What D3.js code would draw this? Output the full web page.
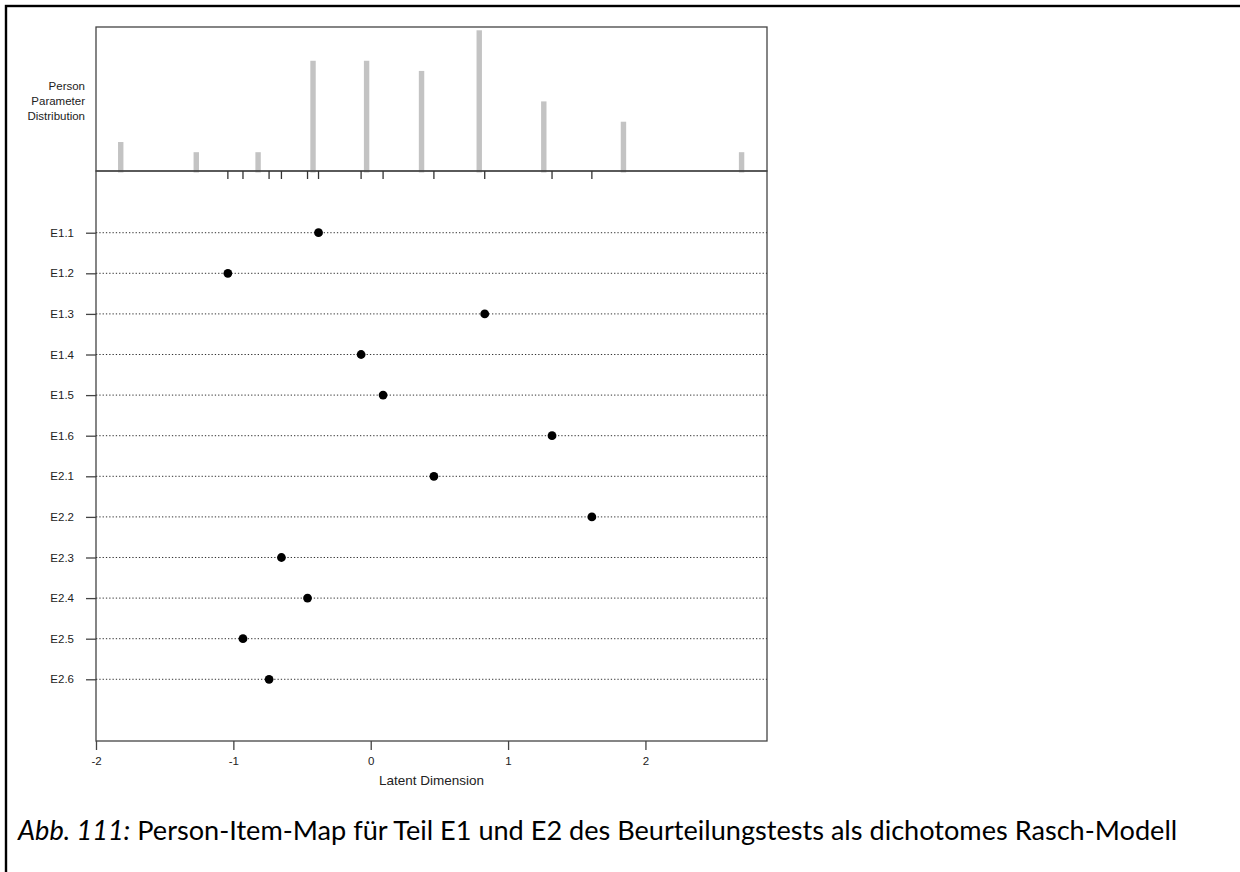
<!DOCTYPE html>
<html>
<head>
<meta charset="utf-8">
<script src="https://cdn.jsdelivr.net/npm/d3@7"></script>
<style>
  body { margin: 0; background: #fff; }
  svg { display: block; }
</style>
</head>
<body>
<div id="chart"></div>
<script>
// item names, top to bottom
const items = ["E1.1", "E1.2", "E1.3", "E1.4", "E1.5", "E1.6",
               "E2.1", "E2.2", "E2.3", "E2.4", "E2.5", "E2.6"];
// item locations on the latent dimension
const itemLocations = [-0.38, -1.04, 0.83, -0.07, 0.09, 1.32,
                       0.46, 1.61, -0.65, -0.46, -0.93, -0.74];
// person parameter distribution
const personParams = [-1.82, -1.27, -0.82, -0.42, -0.03, 0.37, 0.79, 1.26, 1.84, 2.70];
const personCounts = [3, 2, 2, 11, 11, 10, 14, 7, 5, 2];
const xTicks = [-2, -1, 0, 1, 2];

const width = 1240, height = 872;
const font = "'Liberation Sans', Arial, sans-serif";

const svg = d3.select("#chart").append("svg")
  .attr("width", width)
  .attr("height", height);

svg.append("rect").attr("width", width).attr("height", height).attr("fill", "#fff");

// outer frame (cell border, runs off the picture on right / bottom)
svg.append("rect")
  .attr("x", 6).attr("y", 6)
  .attr("width", 1300).attr("height", 1000)
  .attr("fill", "none")
  .attr("stroke", "#000")
  .attr("stroke-width", 2.4);

const left = 96, right = 767;
const histTop = 27, mid = 171, bottom = 741;

const x = d3.scaleLinear().domain([-2.0, 2.885]).range([left, right]);
const yHist = d3.scaleLinear().domain([0, 14]).range([mid + 1.5, 30.3]);
// R style: items at 1..n from bottom, ylim c(0, n+1) with 4% padding
const yItem = d3.scaleLinear().domain([-0.52, items.length + 1.52]).range([bottom, mid]);

const axisCol = "#444";

// ---------- top panel : histogram ----------
svg.selectAll(".bar")
  .data(personParams)
  .enter()
  .append("rect")
  .attr("class", "bar")
  .attr("x", d => x(d) - 2.7)
  .attr("y", (d, i) => yHist(personCounts[i]))
  .attr("width", 5.4)
  .attr("height", (d, i) => yHist(0) - yHist(personCounts[i]))
  .attr("fill", "#c3c3c3");

svg.append("rect")
  .attr("x", left).attr("y", histTop)
  .attr("width", right - left).attr("height", mid - histTop)
  .attr("fill", "none").attr("stroke", axisCol).attr("stroke-width", 1.3);

const ppLabel = svg.append("text")
  .attr("text-anchor", "end")
  .attr("font-family", font)
  .attr("font-size", 11.5)
  .attr("fill", "#222");
["Person", "Parameter", "Distribution"].forEach((t, i) => {
  ppLabel.append("tspan").attr("x", 85).attr("y", 89.5 + i * 15).text(t);
});

// ---------- bottom panel : items ----------
svg.append("rect")
  .attr("x", left).attr("y", mid)
  .attr("width", right - left).attr("height", bottom - mid)
  .attr("fill", "none").attr("stroke", axisCol).attr("stroke-width", 1.3);

// dotted guide lines
svg.selectAll(".guide")
  .data(items)
  .enter()
  .append("line")
  .attr("class", "guide")
  .attr("x1", left).attr("x2", right)
  .attr("y1", (d, i) => yItem(items.length - i))
  .attr("y2", (d, i) => yItem(items.length - i))
  .attr("stroke", "#333")
  .attr("stroke-width", 1)
  .attr("stroke-dasharray", "1.3,2");

// rug of item locations under the divider
svg.selectAll(".rug")
  .data(itemLocations)
  .enter()
  .append("line")
  .attr("class", "rug")
  .attr("x1", d => x(d)).attr("x2", d => x(d))
  .attr("y1", mid).attr("y2", mid + 8)
  .attr("stroke", "#333").attr("stroke-width", 1.3);

// item points
svg.selectAll(".pt")
  .data(itemLocations)
  .enter()
  .append("circle")
  .attr("class", "pt")
  .attr("cx", d => x(d))
  .attr("cy", (d, i) => yItem(items.length - i))
  .attr("r", 4.4)
  .attr("fill", "#000");

// y axis
const yAxis = d3.axisLeft(yItem)
  .tickValues(d3.range(1, items.length + 1))
  .tickFormat(v => items[items.length - v])
  .tickSize(10)
  .tickPadding(12);
const gy = svg.append("g")
  .attr("transform", `translate(${left},0)`)
  .call(yAxis);
gy.select(".domain").remove();
gy.selectAll(".tick line").attr("stroke", axisCol).attr("stroke-width", 1.3);
gy.selectAll(".tick text")
  .attr("font-family", font).attr("font-size", 11.5).attr("fill", "#222");

// x axis
const xAxis = d3.axisBottom(x)
  .tickValues(xTicks)
  .tickFormat(d3.format("d"))
  .tickSize(9)
  .tickPadding(7);
const gx = svg.append("g")
  .attr("transform", `translate(0,${bottom})`)
  .call(xAxis);
gx.select(".domain").remove();
gx.selectAll(".tick line").attr("stroke", axisCol).attr("stroke-width", 1.3);
gx.selectAll(".tick text")
  .attr("font-family", font).attr("font-size", 11.5).attr("fill", "#222")
  .text(d => d < 0 ? "-" + Math.abs(d) : d);

svg.append("text")
  .attr("x", (left + right) / 2)
  .attr("y", 785)
  .attr("text-anchor", "middle")
  .attr("font-family", font)
  .attr("font-size", 13.5)
  .attr("fill", "#222")
  .text("Latent Dimension");

// ---------- caption ----------
const cap = svg.append("text")
  .attr("x", 18)
  .attr("y", 840)
  .attr("font-family", "Lato, 'Open Sans', sans-serif")
  .attr("font-size", 22)
  .attr("fill", "#000");
cap.append("tspan").attr("font-style", "italic").text("Abb. 111:");
cap.append("tspan").text(" Person-Item-Map für Teil E1 und E2 des Beurteilungstests als dichotomes Rasch-Modell");

// fit caption to the width it takes in the original
const capTarget = 1160;
const w = cap.node().getComputedTextLength();
cap.attr("font-size", 22 * capTarget / w);
</script>
</body>
</html>
